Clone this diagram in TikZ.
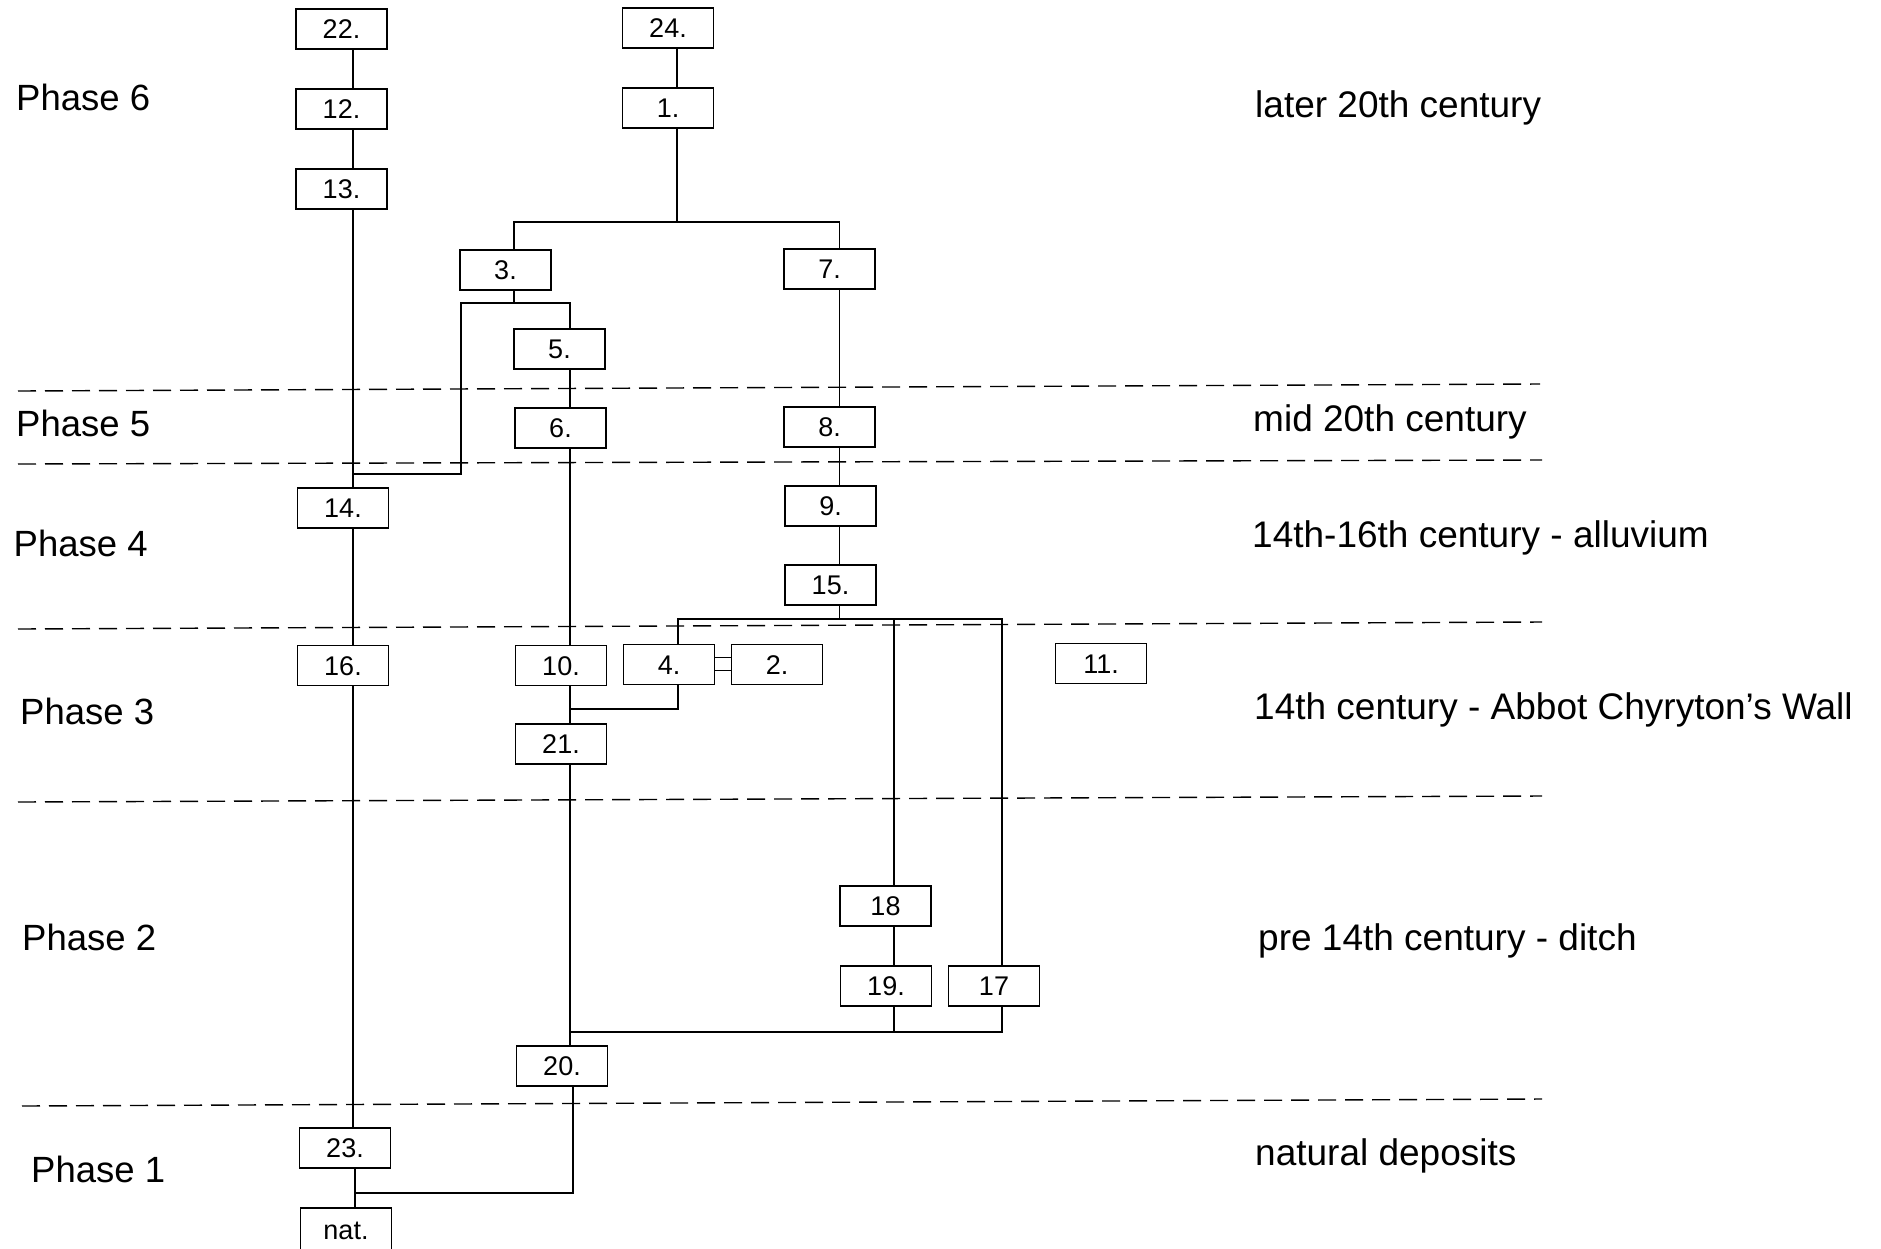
\documentclass[tikz,border=0pt]{standalone}
\usepackage{fontspec}
\setmainfont{Liberation Sans}
\begin{document}
\begin{tikzpicture}[x=1pt,y=-1pt,
  unit/.style={draw, line width=1.4pt, minimum width=91pt, minimum height=40pt, inner sep=0pt,
    font=\fontsize{27}{27}\selectfont, text height=19pt, text depth=0pt},
  link/.style={line width=1.4pt},
  phaseline/.style={dash pattern=on 18pt off 9pt, line width=1.4pt},
  lab/.style={anchor=base west, inner sep=0pt, font=\fontsize{36.5}{36.5}\selectfont},
  rlab/.style={anchor=base west, inner sep=0pt, font=\fontsize{37}{37}\selectfont}]
\path[use as bounding box, clip] (0,0) rectangle (1881,1248);
\fill[white] (0,0) rectangle (1881,1248);

% phase separators
\draw[phaseline] (18,391) -- (1540,384);
\draw[phaseline] (18,464) -- (1542,460);
\draw[phaseline] (18,629) -- (1542,622);
\draw[phaseline] (18,802) -- (1542,796);
\draw[phaseline] (22,1106) -- (1542,1099);

% labels
\node[lab] (ph6) at (16,110) {Phase 6};
\node[lab] (ph5) at (16,436) {Phase 5};
\node[lab] (ph4) at (13.5,556) {Phase 4};
\node[lab] (ph3) at (20,724) {Phase 3};
\node[lab] (ph2) at (22,950) {Phase 2};
\node[lab] (ph1) at (31,1182) {Phase 1};

\node[rlab] (d6) at (1255,117) {later 20th century};
\node[rlab] (d5) at (1253,431) {mid 20th century};
\node[rlab] (d4) at (1252,547) {14th-16th century - alluvium};
\node[rlab] (d3) at (1254,719) {14th century - Abbot Chyryton’s Wall};
\node[rlab] (d2) at (1258,950) {pre 14th century - ditch};
\node[rlab] (d1) at (1255,1165) {natural deposits};

% units
\node[unit] (n22) at (341.5,29) {22.};
\node[unit] (n12) at (341.5,109) {12.};
\node[unit] (n13) at (341.5,189) {13.};
\node[unit] (n24) at (668,28) {24.};
\node[unit] (n1) at (668,108) {1.};
\node[unit] (n3) at (505.5,270) {3.};
\node[unit] (n7) at (829.5,269) {7.};
\node[unit] (n5) at (559.5,349) {5.};
\node[unit] (n6) at (560.5,428) {6.};
\node[unit] (n8) at (829.5,427) {8.};
\node[unit] (n9) at (830.5,506) {9.};
\node[unit] (n14) at (343,508) {14.};
\node[unit] (n15) at (830.5,585) {15.};
\node[unit] (n16) at (343,665.5) {16.};
\node[unit] (n10) at (561,665.5) {10.};
\node[unit] (n4) at (669,664.5) {4.};
\node[unit] (n2) at (777,664.5) {2.};
\node[unit] (n11) at (1101,663.5) {11.};
\node[unit] (n21) at (561,744) {21.};
\node[unit] (n18) at (885.5,906) {18};
\node[unit] (n19) at (886,986) {19.};
\node[unit] (n17) at (994,986) {17};
\node[unit] (n20) at (562,1066) {20.};
\node[unit] (n23) at (345,1148) {23.};
\node[unit, minimum height=44pt] (nnat) at (346,1230) {nat.};

% column coordinates
\coordinate (cA) at (353,0);
\coordinate (cA2) at (355,0);
\coordinate (cB) at (514,0);
\coordinate (cC) at (677,0);
\coordinate (cD) at (839.5,0);
\coordinate (cF) at (570,0);
\coordinate (cF2) at (573,0);
\coordinate (cG) at (678,0);
\coordinate (cH) at (894,0);
\coordinate (cI) at (1002,0);

% junction coordinates
\coordinate (j1M) at (677,222);
\coordinate (j1R) at (839.5,222);
\coordinate (j2L) at (461,303);
\coordinate (j2B) at (514,303);
\coordinate (j3) at (461,474);
\coordinate (j3L) at (353,474);
\coordinate (j4) at (839.5,619);
\coordinate (j4R) at (1002,619);
\coordinate (j5) at (570,709);
\coordinate (j6) at (571,1032);
\coordinate (j6H) at (894,1032);
\coordinate (j7) at (355,1193);

% left column
\draw[link] (n22.south -| cA) -- (n12.north -| cA);
\draw[link] (n12.south -| cA) -- (n13.north -| cA);
\draw[link] (n13.south -| cA) -- (n14.north -| cA);
\draw[link] (n14.south -| cA) -- (n16.north -| cA);
\draw[link] (n16.south -| cA) -- (n23.north -| cA);
\draw[link] (n23.south -| cA2) -- (nnat.north -| cA2);

% top right
\draw[link] (n24.south -| cC) -- (n1.north -| cC);
\draw[link] (n1.south -| cC) -- (j1M);
\draw[link] (n3.north -| cB) |- (j1R) -- (n7.north -| cD);

% from 3
\draw[link] (n3.south -| cB) -- (j2B);
\draw[link] (n5.north -| cF) |- (j2L) -- (j3) -- (j3L);

% middle column
\draw[link] (n5.south -| cF) -- (n6.north -| cF);
\draw[link] (n6.south -| cF) -- (n10.north -| cF);
\draw[link] (n10.south -| cF) -- (n21.north -| cF);
\draw[link] (n4.south -| cG) |- (j5);
\draw[link] (n21.south -| cF) -- (n20.north -| cF);
\draw[link] (n20.south -| cF2) |- (j7);

% right column
\draw[link] (n7.south -| cD) -- (n8.north -| cD);
\draw[link] (n8.south -| cD) -- (n9.north -| cD);
\draw[link] (n9.south -| cD) -- (n15.north -| cD);
\draw[link] (n15.south -| cD) -- (j4);
\draw[link] (n4.north -| cG) |- (j4R) -- (n17.north -| cI);
\draw[link] (n18.north -| cH) -- (cH |- j4R);
\draw[link] (n18.south -| cH) -- (n19.north -| cH);
\draw[link] (n19.south -| cH) -- (j6H);
\draw[link] (n17.south -| cI) |- (j6);

% double link 4 = 2
\draw[link] ([yshift=7pt]n4.east) -- ([yshift=7pt]n2.west);
\draw[link] ([yshift=-6pt]n4.east) -- ([yshift=-6pt]n2.west);
\end{tikzpicture}
\end{document}
